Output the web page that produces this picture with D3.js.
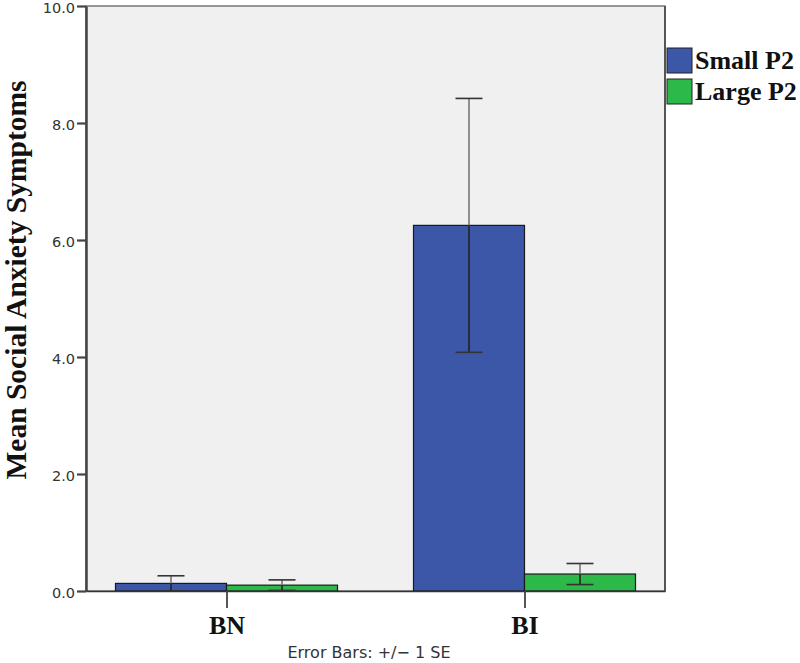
<!DOCTYPE html>
<html><head><meta charset="utf-8">
<script src="https://cdn.jsdelivr.net/npm/d3@7"></script>
<style>body{margin:0;background:#fff}</style>
</head><body>
<svg id="c" width="800" height="663"></svg>
<script>
const categories = ["BN", "BI"];
const seriesNames = ["Small P2", "Large P2"];
const seriesColors = ["#3c56a8", "#2db84a"];
const means = { "Small P2": [0.13, 6.25], "Large P2": [0.10, 0.29] };
const ses   = { "Small P2": [0.13, 2.17], "Large P2": [0.09, 0.18] };
const yTicks = [0, 2, 4, 6, 8, 10];

const svg = d3.select("#c");
const L = 86, R = 665, T = 6, B = 591;
const x = d3.scalePoint().domain(categories).range([L, R]).padding(0.4715);
const y = d3.scaleLinear().domain([0, 10]).range([B, T]);
const barW = 111;
const sub = d3.scaleBand().domain(seriesNames).range([-barW, barW]);

svg.append("rect").attr("x", L).attr("y", T).attr("width", R - L).attr("height", B - T)
  .attr("fill", "#f0f0f0").attr("stroke", "#555").attr("stroke-width", 1.2);
svg.append("line").attr("x1", R).attr("x2", R).attr("y1", T).attr("y2", B)
  .attr("stroke", "#555").attr("stroke-width", 2);

seriesNames.forEach((s, si) => {
  categories.forEach((c, ci) => {
    const m = means[s][ci];
    const x0 = x(c) + sub(s);
    svg.append("rect").attr("x", x0).attr("y", y(m)).attr("width", sub.bandwidth())
      .attr("height", y(0) - y(m)).attr("fill", seriesColors[si])
      .attr("stroke", "#1a1a1a").attr("stroke-width", 1.2);
  });
});
seriesNames.forEach((s, si) => {
  categories.forEach((c, ci) => {
    const m = means[s][ci], e = ses[s][ci];
    const cx = x(c) + sub(s) + sub.bandwidth() / 2;
    const lo = Math.max(0, m - e), hi = m + e;
    const g = svg.append("g").attr("stroke", "#333").attr("stroke-width", 1.6);
    g.append("line").attr("x1", cx).attr("x2", cx).attr("y1", y(m)).attr("y2", y(hi)).attr("stroke", "#777");
    g.append("line").attr("x1", cx).attr("x2", cx).attr("y1", y(lo)).attr("y2", y(m)).attr("stroke", "#222");
    g.append("line").attr("x1", cx - 13.5).attr("x2", cx + 13.5).attr("y1", y(hi)).attr("y2", y(hi));
    g.append("line").attr("x1", cx - 13.5).attr("x2", cx + 13.5).attr("y1", y(lo)).attr("y2", y(lo));
  });
});

// y axis
const ya = svg.append("g").attr("transform", `translate(${L},0)`)
  .call(d3.axisLeft(y).tickValues(yTicks).tickFormat(d3.format(".1f")).tickSize(9).tickSizeOuter(0));
ya.select(".domain").attr("stroke", "#444").attr("stroke-width", 2.5);
ya.selectAll(".tick line").attr("stroke", "#444").attr("stroke-width", 2.2);
ya.selectAll(".tick text").attr("font-family", "'DejaVu Sans', sans-serif").attr("font-size", 14.5)
  .attr("fill", "#333").attr("x", -11).attr("dy", "0.45em");

// x axis
const xa = svg.append("g").attr("transform", `translate(0,${B})`)
  .call(d3.axisBottom(x).tickSize(17).tickSizeOuter(0));
xa.select(".domain").attr("stroke", "#333").attr("stroke-width", 1.5);
xa.selectAll(".tick line").attr("stroke", "#444").attr("stroke-width", 1.8);
xa.selectAll(".tick text").attr("font-family", "'Liberation Serif', 'Times New Roman', serif")
  .attr("font-weight", "bold").attr("font-size", 26).attr("fill", "#111")
  .attr("dy", null).attr("y", 43);

// y title
svg.append("text").attr("transform", `translate(26,280) rotate(-90)`)
  .attr("text-anchor", "middle").attr("font-family", "'Liberation Serif', 'Times New Roman', serif")
  .attr("font-weight", "bold").attr("font-size", 29.5).attr("fill", "#111")
  .text("Mean Social Anxiety Symptoms");

// footnote
svg.append("text").attr("x", 369).attr("y", 658).attr("text-anchor", "middle")
  .attr("font-family", "'DejaVu Sans', sans-serif").attr("font-size", 16).attr("fill", "#333")
  .text("Error Bars: +/\u2212 1 SE");

// legend
const lg = svg.append("g").attr("transform", "translate(667,48)");
seriesNames.forEach((s, i) => {
  const g = lg.append("g").attr("transform", `translate(0,${i * 31})`);
  g.append("rect").attr("width", 25).attr("height", 25).attr("fill", seriesColors[i])
    .attr("stroke", "#222").attr("stroke-width", 1);
  g.append("text").attr("x", 28).attr("y", 21).attr("font-family", "'Liberation Serif', 'Times New Roman', serif")
    .attr("font-weight", "bold").attr("font-size", 26).attr("fill", "#111").text(s);
});
</script>
</body></html>
